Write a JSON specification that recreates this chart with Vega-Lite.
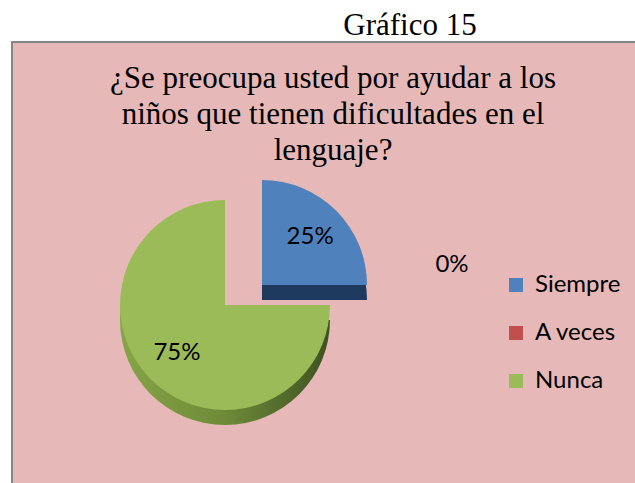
{
  "$schema": "https://vega.github.io/schema/vega-lite/v6.json",
  "width": 640,
  "height": 450,
  "autosize": {"type": "none"},
  "padding": {"left": 12, "top": 42, "right": 0, "bottom": 0},
  "background": "white",
  "view": {"fill": "#E6B9B8", "stroke": "#868686", "strokeWidth": 2},
  "config": {
    "view": {"fill": "#E6B9B8", "stroke": "#868686", "strokeWidth": 2},
    "legend": {"symbolOpacity": 1}
  },
  "layer": [
    {
      "data": {"values": [
        {"cat": "Siempre", "pct": 0.25},
        {"cat": "A veces", "pct": 0},
        {"cat": "Nunca", "pct": 0.75}
      ]},
      "transform": [{"window": [{"op": "row_number", "as": "idx"}]}],
      "encoding": {
        "theta": {"field": "pct", "type": "quantitative", "stack": true},
        "order": {"field": "idx", "type": "quantitative"},
        "detail": {"field": "cat", "type": "nominal"}
      },
      "layer": [
        {
          "mark": {"type": "arc", "x": 250, "y": 258, "outerRadius": 105, "fill": "#1F3A5F"},
          "encoding": {"fillOpacity": {"condition": {"test": "datum.cat === 'Siempre'", "value": 1}, "value": 0}}
        },
        {
          "mark": {"type": "arc", "x": 250, "y": 243, "outerRadius": 105},
          "encoding": {
            "color": {"field": "cat", "type": "nominal", "scale": {"domain": ["Siempre", "A veces", "Nunca"], "range": ["#4F81BD", "#C0504D", "#9BBB59"]},
              "legend": {"title": null, "orient": "none", "legendX": 492, "legendY": 231, "symbolType": "square", "symbolSize": 196, "symbolStrokeWidth": 0, "labelFont": "Lato", "labelFontSize": 24, "labelColor": "black", "labelOffset": 7, "rowPadding": 24}},
            "fillOpacity": {"condition": {"test": "datum.cat === 'Siempre'", "value": 1}, "value": 0}
          }
        },
        {
          "mark": {"type": "arc", "x": 213, "y": 278, "outerRadius": 105, "fill": {"gradient": "linear", "x1": 0, "x2": 1, "y1": 0, "y2": 0, "stops": [{"offset": 0, "color": "#86A447"}, {"offset": 0.5, "color": "#6E8A38"}, {"offset": 1, "color": "#3E5222"}]}},
          "encoding": {"fillOpacity": {"condition": {"test": "datum.cat === 'Nunca'", "value": 1}, "value": 0}}
        },
        {
          "mark": {"type": "arc", "x": 213, "y": 263, "outerRadius": 105},
          "encoding": {
            "color": {"field": "cat", "type": "nominal"},
            "fillOpacity": {"condition": {"test": "datum.cat === 'Nunca'", "value": 1}, "value": 0}
          }
        },
        {
          "mark": {"type": "text", "x": 250, "y": 243, "radius": 68, "font": "Lato", "fontSize": 24, "color": "black"},
          "encoding": {"text": {"condition": {"test": "datum.cat === 'Siempre'", "field": "pct", "type": "quantitative", "format": ".0%"}, "value": ""}}
        },
        {
          "mark": {"type": "text", "x": 213, "y": 263, "radius": 68, "font": "Lato", "fontSize": 24, "color": "black"},
          "encoding": {"text": {"condition": {"test": "datum.cat === 'Nunca'", "field": "pct", "type": "quantitative", "format": ".0%"}, "value": ""}}
        },
        {
          "mark": {"type": "text", "x": 250, "y": 223, "radius": 190, "font": "Lato", "fontSize": 24, "color": "black"},
          "encoding": {"text": {"condition": {"test": "datum.cat === 'A veces'", "field": "pct", "type": "quantitative", "format": ".0%"}, "value": ""}}
        }
      ]
    },
    {
      "data": {"values": [
        {"t": "¿Se preocupa usted por ayudar a los\nniños que tienen dificultades en el\nlenguaje?"}
      ]},
      "mark": {"type": "text", "x": 321, "y": 46, "align": "center", "baseline": "alphabetic", "lineBreak": "\n", "lineHeight": 36, "font": "Liberation Serif", "fontSize": 31, "color": "black"},
      "encoding": {"text": {"field": "t", "type": "nominal"}}
    },
    {
      "data": {"values": [{"t": "Gráfico 15"}]},
      "mark": {"type": "text", "x": 398, "y": -7, "align": "center", "baseline": "alphabetic", "font": "Liberation Serif", "fontSize": 31, "color": "black"},
      "encoding": {"text": {"field": "t", "type": "nominal"}}
    }
  ]
}
